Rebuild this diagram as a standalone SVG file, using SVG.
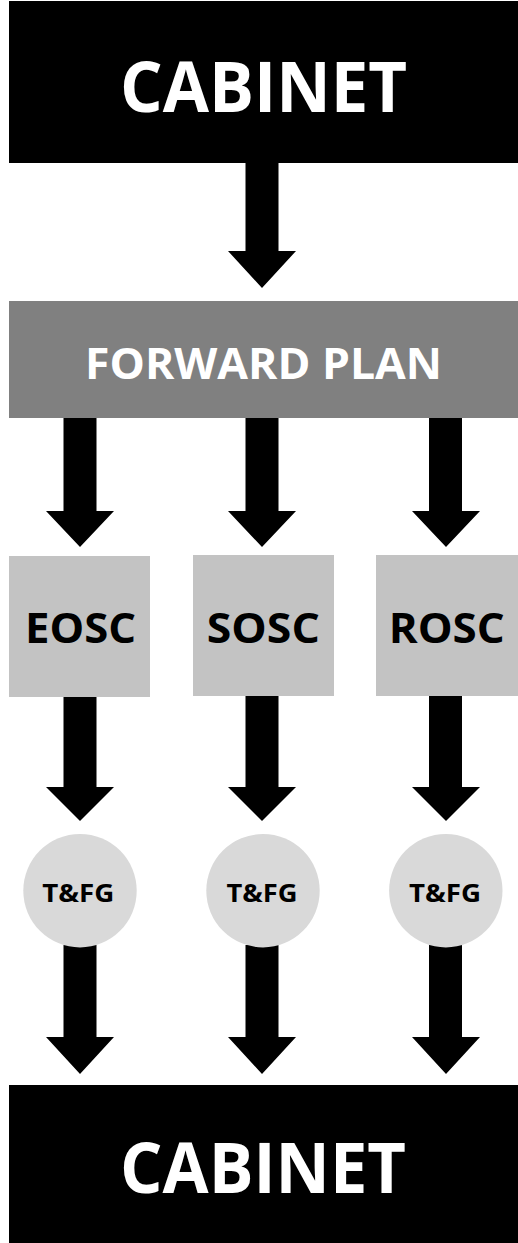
<svg xmlns="http://www.w3.org/2000/svg" width="518" height="1243" viewBox="0 0 518 1243">
<style>
.t{font-family:"Open Sans","Liberation Sans",sans-serif;font-weight:bold;text-anchor:middle}
.w{fill:#ffffff}
.k{fill:#000000}
.arr{fill:#000000}
</style>
<rect width="518" height="1243" fill="#ffffff"/>
<g id="connectors">
<polygon class="arr" points="245.5,160 278.5,160 278.5,251 296,251 262,288 228,251 245.5,251"/>
<polygon class="arr" points="63.5,416 96.5,416 96.5,511 114,511 80,547 46,511 63.5,511"/>
<polygon class="arr" points="245.5,416 278.5,416 278.5,511 296,511 262,547 228,511 245.5,511"/>
<polygon class="arr" points="429,416 462,416 462,511 480,511 446,547 412,511 429,511"/>
<polygon class="arr" points="63.5,693 96.5,693 96.5,787 114,787 80,821 46,787 63.5,787"/>
<polygon class="arr" points="245.5,693 278.5,693 278.5,787 296,787 262,821 228,787 245.5,787"/>
<polygon class="arr" points="429,693 462,693 462,787 480,787 446,821 412,787 429,787"/>
<polygon class="arr" points="63.5,945 96.5,945 96.5,1037 114,1037 80,1074 46,1037 63.5,1037"/>
<polygon class="arr" points="245.5,945 278.5,945 278.5,1037 296,1037 262,1074 228,1037 245.5,1037"/>
<polygon class="arr" points="429,945 462,945 462,1037 480,1037 446,1074 412,1037 429,1037"/>
</g>
<g id="cabinet-top">
<rect x="9" y="1" width="509" height="162" fill="#000000"/>
<text class="t w" x="263.5" y="112" font-size="69" textLength="287" lengthAdjust="spacingAndGlyphs">CABINET</text>
</g>
<g id="forward-plan">
<rect x="9" y="301" width="509" height="117" fill="#808080"/>
<text class="t w" x="263.5" y="379" font-size="43.5" textLength="357" lengthAdjust="spacingAndGlyphs">FORWARD PLAN</text>
</g>
<g id="eosc">
<rect x="9" y="556" width="141" height="141" fill="#c3c3c3"/>
<text class="t k" x="80.5" y="643" font-size="42" textLength="111" lengthAdjust="spacingAndGlyphs">EOSC</text>
</g>
<g id="sosc">
<rect x="193" y="555" width="141" height="141" fill="#c3c3c3"/>
<text class="t k" x="263.3" y="643" font-size="42" textLength="113" lengthAdjust="spacingAndGlyphs">SOSC</text>
</g>
<g id="rosc">
<rect x="376" y="555" width="142" height="141" fill="#c3c3c3"/>
<text class="t k" x="446.7" y="643" font-size="42" textLength="116" lengthAdjust="spacingAndGlyphs">ROSC</text>
</g>
<g id="tfg-1">
<circle cx="80" cy="890.7" r="56.7" fill="#d9d9d9"/>
<text class="t k" x="78.3" y="901.7" font-size="25.6" textLength="72" lengthAdjust="spacingAndGlyphs">T&amp;FG</text>
</g>
<g id="tfg-2">
<circle cx="263" cy="890.7" r="56.7" fill="#d9d9d9"/>
<text class="t k" x="262" y="901.7" font-size="25.6" textLength="71" lengthAdjust="spacingAndGlyphs">T&amp;FG</text>
</g>
<g id="tfg-3">
<circle cx="445.8" cy="890.7" r="56.7" fill="#d9d9d9"/>
<text class="t k" x="445" y="901.7" font-size="25.6" textLength="72" lengthAdjust="spacingAndGlyphs">T&amp;FG</text>
</g>
<g id="cabinet-bottom">
<rect x="9" y="1085" width="509" height="158" fill="#000000"/>
<text class="t w" x="263" y="1192.7" font-size="69" textLength="286" lengthAdjust="spacingAndGlyphs">CABINET</text>
</g>
</svg>
